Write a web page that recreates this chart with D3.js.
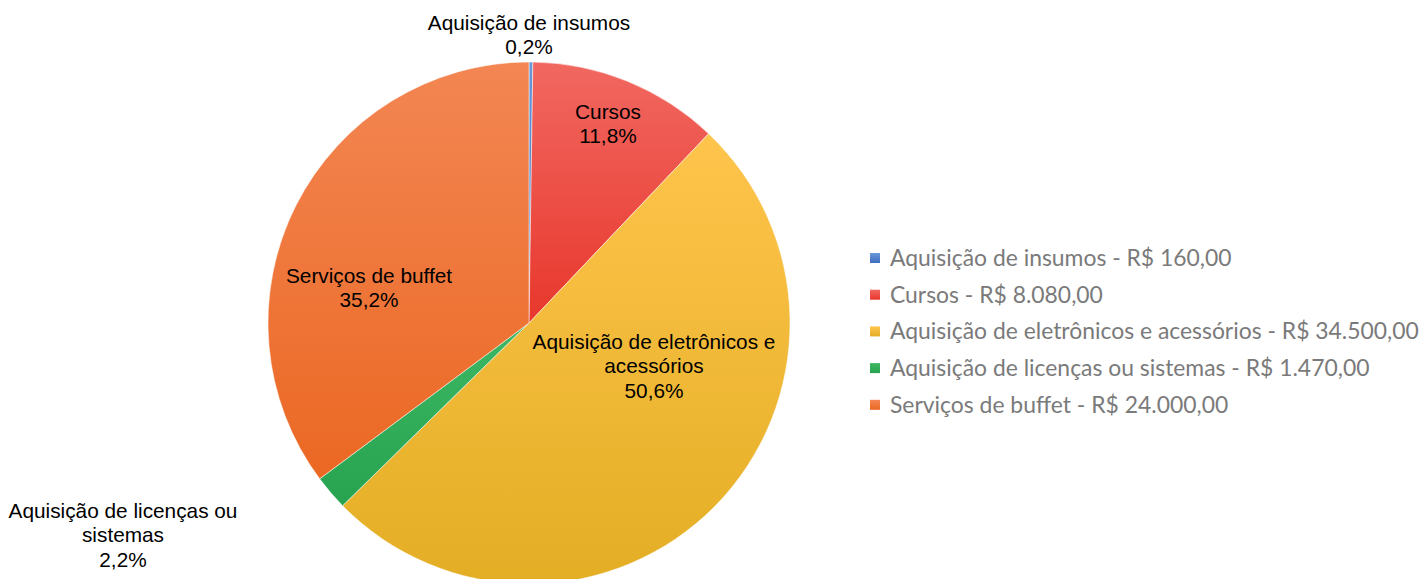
<!DOCTYPE html>
<html>
<head>
<meta charset="utf-8">
<script src="https://cdn.jsdelivr.net/npm/d3@7"></script>
<style>
  html, body { margin: 0; padding: 0; background: #fff; }
  svg { display: block; }
</style>
</head>
<body>
<svg id="chart" width="1424" height="579"></svg>
<script>
const categories = [
  "Aquisição de insumos",
  "Cursos",
  "Aquisição de eletrônicos e acessórios",
  "Aquisição de licenças ou sistemas",
  "Serviços de buffet"
];
const values = [160, 8080, 34500, 1470, 24000];
const legendValueLabels = ["R$ 160,00", "R$ 8.080,00", "R$ 34.500,00", "R$ 1.470,00", "R$ 24.000,00"];
const dataLabelLines = [
  ["Aquisição de insumos"],
  ["Cursos"],
  ["Aquisição de eletrônicos e", "acessórios"],
  ["Aquisição de licenças ou", "sistemas"],
  ["Serviços de buffet"]
];
const colorsTop = ["#6A97D8", "#F16861", "#FFC44C", "#3DB764", "#F38653"];
const colorsBottom = ["#3F6FBF", "#E8372C", "#E3AE24", "#27A350", "#EB6823"];

const svg = d3.select("#chart");
const cx = 529, cy = 323, r = 261;

const defs = svg.append("defs");
categories.forEach((c, i) => {
  const g = defs.append("linearGradient")
    .attr("id", "grad" + i)
    .attr("x1", 0).attr("y1", 0).attr("x2", 0).attr("y2", 1);
  g.append("stop").attr("offset", "0%").attr("stop-color", colorsTop[i]);
  g.append("stop").attr("offset", "100%").attr("stop-color", colorsBottom[i]);
});

const total = d3.sum(values);
const pie = d3.pie().sort(null).value(d => d)(values);
const arc = d3.arc().innerRadius(0).outerRadius(r);

const gPie = svg.append("g").attr("transform", `translate(${cx},${cy})`);
gPie.selectAll("path")
  .data(pie)
  .join("path")
  .attr("d", arc)
  .attr("fill", (d, i) => `url(#grad${i})`)
  .attr("stroke", "#fff")
  .attr("stroke-width", 0.5);

const fmtPct = v => (v * 100).toFixed(1).replace(".", ",") + "%";

// label centres relative to the pie centre (layout)
const labelPos = [[0, -288.5], [79, -199], [125, 43], [-406, 212], [-160, -35]];
const gLab = svg.append("g")
  .attr("font-family", "'Liberation Sans', Arial, sans-serif")
  .attr("font-size", 20.8)
  .attr("fill", "#000")
  .attr("text-anchor", "middle");

pie.forEach((d, i) => {
  const [x, y] = labelPos[i];
  const lines = dataLabelLines[i].concat([fmtPct(d.value / total)]);
  const lh = 24.3;
  const startY = y - (lines.length - 1) * lh / 2;
  const t = gLab.append("text");
  lines.forEach((ln, k) => {
    t.append("tspan")
      .attr("x", cx + x)
      .attr("y", cy + startY + k * lh)
      .attr("dy", "0.35em")
      .text(ln);
  });
});

// legend
const legend = svg.append("g").attr("transform", "translate(870,258)");
const rowH = 36.7;
categories.forEach((c, i) => {
  const row = legend.append("g").attr("transform", `translate(0,${i * rowH})`);
  row.append("rect")
    .attr("x", 0).attr("y", -5).attr("width", 10).attr("height", 10)
    .attr("fill", `url(#grad${i})`);
  row.append("text")
    .attr("x", 20).attr("y", 0).attr("dy", "0.35em")
    .attr("font-family", "Lato, 'Open Sans', sans-serif")
    .attr("font-size", 22.9)
    .attr("fill", "#7A7A7A")
    .text(`${c} - ${legendValueLabels[i]}`);
});
</script>
</body>
</html>
